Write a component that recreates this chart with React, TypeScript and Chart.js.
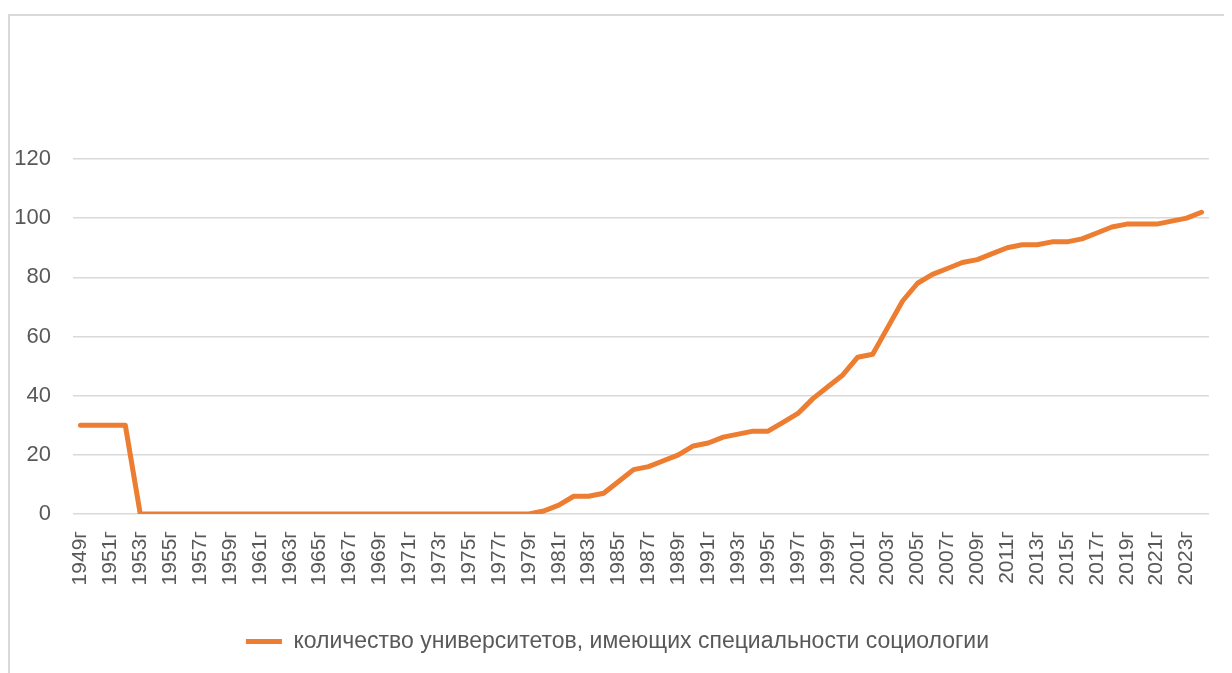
import React, { useEffect, useRef } from "react";
import { Chart, registerables } from "chart.js";

Chart.register(...registerables);

const years: number[] = [];
for (let y = 1949; y <= 2024; y++) years.push(y);
const categories: string[] = years.map((y) => `${y}г`);

// values 1949..2024
const universities: number[] = [
  30, 30, 30, 30, // 1949-1952
  0, 0, 0, 0, 0, 0, 0, 0, 0, 0, // 1953-1962
  0, 0, 0, 0, 0, 0, 0, 0, 0, 0, // 1963-1972
  0, 0, 0, 0, 0, 0, 0, // 1973-1979
  1, 3, 6, 6, 7, 11, 15, 16, 18, 20, // 1980-1989
  23, 24, 26, 27, 28, 28, 31, 34, 39, 43, // 1990-1999
  47, 53, 54, 63, 72, 78, 81, 83, 85, 86, // 2000-2009
  88, 90, 91, 91, 92, 92, 93, 95, 97, 98, // 2010-2019
  98, 98, 99, 100, 102, // 2020-2024
];

const seriesLabel = "количество университетов, имеющих специальности социологии";
const yTicks = [0, 20, 40, 60, 80, 100, 120];

const legendShift = {
  id: "legendShift",
  afterLayout(chart: any) {
    if (chart.legend) {
      chart.legend.left += 8;
      chart.legend.right += 8;
    }
  },
};

export default function App() {
  const ref = useRef<HTMLCanvasElement | null>(null);

  useEffect(() => {
    if (!ref.current) return;
    const font = "'Liberation Sans', Arial, sans-serif";
    const chart = new Chart(ref.current, {
      type: "line",
      data: {
        labels: categories,
        datasets: [
          {
            label: seriesLabel,
            data: universities,
            borderColor: "#ED7D31",
            backgroundColor: "#ED7D31",
            borderWidth: 5,
            pointRadius: 0,
            tension: 0,
            borderCapStyle: "round",
            borderJoinStyle: "round",
          },
        ],
      },
      plugins: [legendShift],
      options: {
        animation: false,
        responsive: false,
        maintainAspectRatio: false,
        layout: { padding: { top: 143, right: 23, bottom: 10, left: 0 } },
        plugins: {
          tooltip: { enabled: false },
          legend: {
            position: "bottom",
            labels: {
              usePointStyle: true,
              pointStyle: "line",
              pointStyleWidth: 36,
              color: "#595959",
              font: { family: font, size: 23 },
              padding: 10,
            },
          },
        },
        scales: {
          x: {
            offset: true,
            grid: { display: false, drawTicks: false },
            border: { display: false },
            ticks: {
              autoSkip: false,
              minRotation: 90,
              maxRotation: 90,
              padding: 17,
              color: "#595959",
              font: { family: font, size: 21 },
              callback: (_v: any, i: number) => (i % 2 === 0 ? categories[i] : ""),
            },
            afterFit: (s: any) => {
              s.height = 106;
              s.paddingLeft = 0;
              s.paddingRight = 0;
            },
          },
          y: {
            min: 0,
            max: 120,
            afterBuildTicks: (s: any) => {
              s.ticks = yTicks.map((v) => ({ value: v }));
            },
            grid: { color: "#D9D9D9", lineWidth: 1.5, drawTicks: false },
            border: { display: false },
            ticks: {
              padding: 22,
              color: "#595959",
              font: { family: font, size: 22 },
            },
            afterFit: (s: any) => {
              s.width = 63;
            },
          },
        },
      },
    });
    return () => chart.destroy();
  }, []);

  return (
    <div style={{ paddingTop: 6 }}>
      <div
        style={{
          width: 1224,
          height: 659,
          borderTop: "2px solid #D9D9D9",
          borderLeft: "2px solid #D9D9D9",
          boxSizing: "border-box",
          overflow: "hidden",
        }}
      >
        <canvas ref={ref} width={1222} height={657} style={{ display: "block" }} />
      </div>
    </div>
  );
}
